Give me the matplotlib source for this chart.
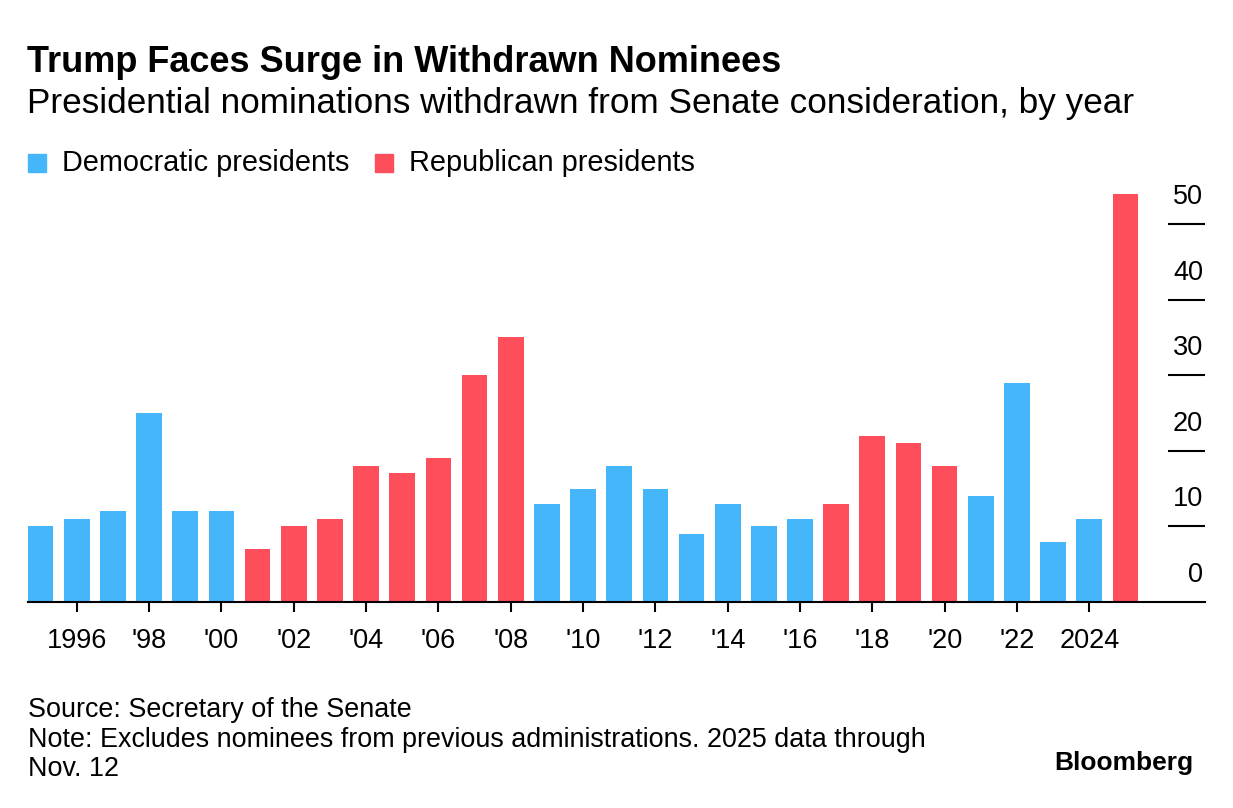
import matplotlib.pyplot as plt
from matplotlib.patches import Rectangle

plt.rcParams['font.family'] = ['Liberation Sans', 'DejaVu Sans']

# Withdrawn nominations per year
years = list(range(1995, 2026))
withdrawn = [10, 11, 12, 25, 12, 12, 7, 10, 11, 18, 17, 19, 30, 35, 13,
             15, 18, 15, 9, 13, 10, 11, 13, 22, 21, 18, 14, 29, 8, 11, 54]
party = ['D'] * 6 + ['R'] * 8 + ['D'] * 8 + ['R'] * 4 + ['D'] * 4 + ['R']

tick_years = list(range(1996, 2025, 2))
tick_labels = ['1996'] + ["'%02d" % (y % 100) for y in tick_years[1:-1]] + ['2024']
y_ticks = [0, 10, 20, 30, 40, 50]

BLUE = '#46b6fa'
RED = '#ff4e5b'
colors = [BLUE if p == 'D' else RED for p in party]

W, H = 1233, 808
fig = plt.figure(figsize=(W / 100, H / 100), dpi=100)

def fx(px):
    return px / W

def fy(py):
    return 1 - py / H

ax = fig.add_axes([fx(28), fy(602), fx(1205 - 28), 415.8 / H])
ax.bar(years, withdrawn, width=0.71, color=colors, zorder=2)
ax.set_xlim(1994.65, 2027.2)
ax.set_ylim(0, 55)

for s in ['top', 'left', 'right']:
    ax.spines[s].set_visible(False)
ax.spines['bottom'].set_linewidth(1.5)
ax.spines['bottom'].set_zorder(3)

ax.set_xticks(tick_years, tick_labels)
ax.tick_params(axis='x', length=7.5, width=1.5, pad=11, labelsize=19.5)

ax.yaxis.tick_right()
ax.set_yticks(y_ticks[1:])
ax.tick_params(axis='y', direction='in', length=26.5, width=1.5,
               labelright=False, labelleft=False)
for v in y_ticks:
    ax.annotate(str(v), xy=(1.0, v), xycoords=('axes fraction', 'data'),
                xytext=(-1.5, 19.5), textcoords='offset points',
                ha='right', va='center', fontsize=19.5)

# Titles
fig.text(fx(27), fy(62), 'Trump Faces Surge in Withdrawn Nominees',
         fontsize=26, fontweight='bold', va='center', ha='left')
fig.text(fx(27), fy(104), 'Presidential nominations withdrawn from Senate consideration, by year',
         fontsize=25.3, va='center', ha='left')

# Legend
for x0, label, c in [(28, 'Democratic presidents', BLUE), (375, 'Republican presidents', RED)]:
    fig.patches.append(Rectangle((fx(x0), fy(172)), fx(18), 18 / H, color=c,
                                 transform=fig.transFigure, figure=fig))
    fig.text(fx(x0 + 34), fy(163), label, fontsize=20.8, va='center', ha='left')

# Footer
fig.text(fx(28), fy(710), 'Source: Secretary of the Senate', fontsize=19.4, va='center')
fig.text(fx(28), fy(740), 'Note: Excludes nominees from previous administrations. 2025 data through',
         fontsize=19.4, va='center')
fig.text(fx(28), fy(769), 'Nov. 12', fontsize=19.4, va='center')
fig.text(fx(1193), fy(763), 'Bloomberg', fontsize=19, fontweight='bold', va='center', ha='right')

fig.savefig('out.png', dpi=100)
